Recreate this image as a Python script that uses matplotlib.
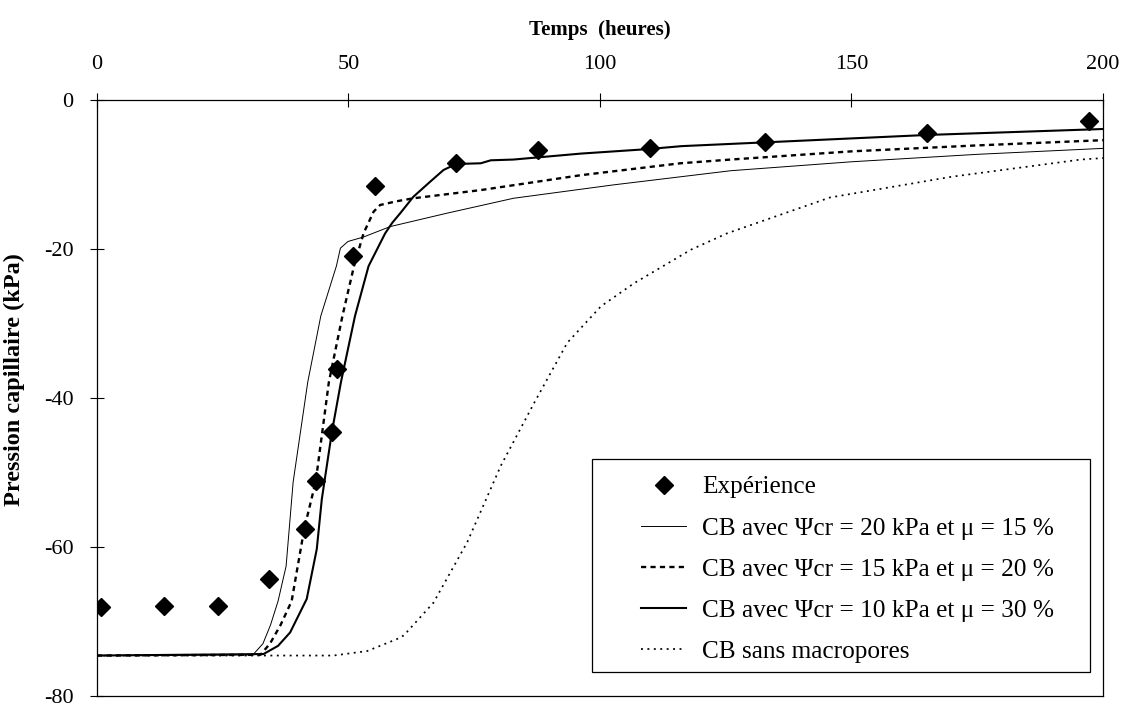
import matplotlib
matplotlib.use('Agg')
import matplotlib.pyplot as plt
from matplotlib.patches import Rectangle

plt.rcParams['font.family'] = ['Liberation Serif', 'DejaVu Serif']
plt.rcParams['axes.unicode_minus'] = False

# Experimental points
exp_t = [0.8, 13.3, 24.1, 34.2, 41.3, 43.5, 46.7, 47.7, 50.9, 55.3, 71.4, 87.6, 109.9, 132.8, 165.0, 197.2]
exp_p = [-68.1, -68.0, -68.0, -64.3, -57.6, -51.2, -44.6, -36.1, -20.9, -11.5, -8.5, -6.7, -6.4, -5.6, -4.5, -2.8]

# CB psi_cr = 20 kPa, mu = 15 %
t20 = [0, 31.0, 33.0, 34.5, 36.0, 37.6, 39.0, 41.9, 44.5, 47.6, 48.4, 49.9, 53.0, 58.3, 69.6, 82.8, 102.7, 126.0, 150.0, 175.0, 200.0]
p20 = [-74.6, -74.5, -73.0, -70.5, -67.3, -62.6, -51.3, -37.9, -29.0, -22.3, -19.9, -19.0, -18.4, -17.0, -15.2, -13.2, -11.4, -9.5, -8.3, -7.3, -6.5]

# CB psi_cr = 15 kPa, mu = 20 %
t15 = [0, 32.5, 34.4, 36.5, 38.7, 41.2, 43.5, 46.1, 48.8, 51.1, 53.0, 55.0, 56.3, 59.6, 62.9, 76.3, 96.2, 116.0, 126.0, 150.0, 175.0, 200.0]
p15 = [-74.6, -74.5, -73.0, -70.5, -67.3, -57.6, -51.2, -37.9, -29.0, -22.3, -17.9, -15.0, -14.1, -13.6, -13.2, -12.1, -10.1, -8.5, -8.0, -6.9, -6.1, -5.4]

# CB psi_cr = 10 kPa, mu = 30 %
t10 = [0, 33.1, 36.0, 38.4, 41.7, 43.7, 44.7, 46.7, 48.5, 51.3, 54.0, 57.3, 58.7, 60.3, 62.9, 66.2, 68.9, 71.4, 76.3, 78.3, 82.8, 96.2, 109.5, 116.2, 135.8, 165.0, 200.0]
p10 = [-74.6, -74.4, -73.3, -71.5, -67.0, -60.3, -53.6, -44.6, -37.9, -29.0, -22.3, -17.9, -16.5, -15.2, -13.0, -11.0, -9.4, -8.6, -8.5, -8.1, -8.0, -7.2, -6.6, -6.2, -5.6, -4.7, -3.9]

# CB sans macropores
tsm = [0, 47.0, 53.7, 59.6, 61.0, 66.9, 73.6, 80.3, 86.9, 93.5, 100.2, 106.8, 118.1, 125.3, 145.7, 170.0, 195.6, 200.0]
psm = [-74.6, -74.6, -74.0, -72.4, -71.9, -67.5, -59.4, -49.1, -40.7, -32.6, -27.7, -24.6, -20.1, -17.9, -13.1, -10.3, -8.0, -7.8]

fig = plt.figure(figsize=(11.25, 7.06), dpi=100)
ax = fig.add_axes([0.0862, 0.0145, 0.8942, 0.8439])

ax.plot(exp_t, exp_p, linestyle='none', marker='D', color='black', markersize=9.5,
        label='Expérience', zorder=5)
ax.plot(t20, p20, color='black', lw=0.7,
        label='CB avec \u03a8cr = 20 kPa et \u03bc = 15 %')
ax.plot(t15, p15, color='black', lw=1.7, dashes=(2.2, 1.8),
        label='CB avec \u03a8cr = 15 kPa et \u03bc = 20 %')
ax.plot(t10, p10, color='black', lw=1.5,
        label='CB avec \u03a8cr = 10 kPa et \u03bc = 30 %')
ax.plot(tsm, psm, color='black', lw=1.25, dashes=(1.1, 2.6),
        label='CB sans macropores')

ax.set_xlim(0, 200)
ax.set_ylim(-80, 0)
ax.set_xticks([0, 50, 100, 150, 200])
ax.set_yticks([0, -20, -40, -60, -80])
ax.xaxis.tick_top()
ax.xaxis.set_label_position('top')
ax.tick_params(axis='both', direction='inout', length=10, width=0.8, labelsize=16)
ax.tick_params(axis='x', pad=14)
ax.tick_params(axis='y', pad=12)
for s in ax.spines.values():
    s.set_linewidth(0.9)

ax.set_xlabel('Temps  (heures)', fontsize=15, fontweight='bold', labelpad=14)
ax.set_ylabel('Pression capillaire (kPa)', fontsize=17.5, fontweight='bold')
ax.yaxis.set_label_coords(-0.072, 0.531)

# legend box drawn by hand (wide side padding, tight top/bottom like the original)
ax.add_patch(Rectangle((0.492, 0.040), 0.495, 0.357, transform=ax.transAxes,
                       facecolor='white', edgecolor='black', lw=0.9, zorder=6))
leg = ax.legend(loc='upper left', bbox_to_anchor=(0.5408, 0.3694), fontsize=18.2,
                frameon=False, handlelength=1.79, handletextpad=0.62,
                labelspacing=0.73, borderpad=0, borderaxespad=0)
leg.set_zorder(7)

fig.savefig('out.png', dpi=100)
